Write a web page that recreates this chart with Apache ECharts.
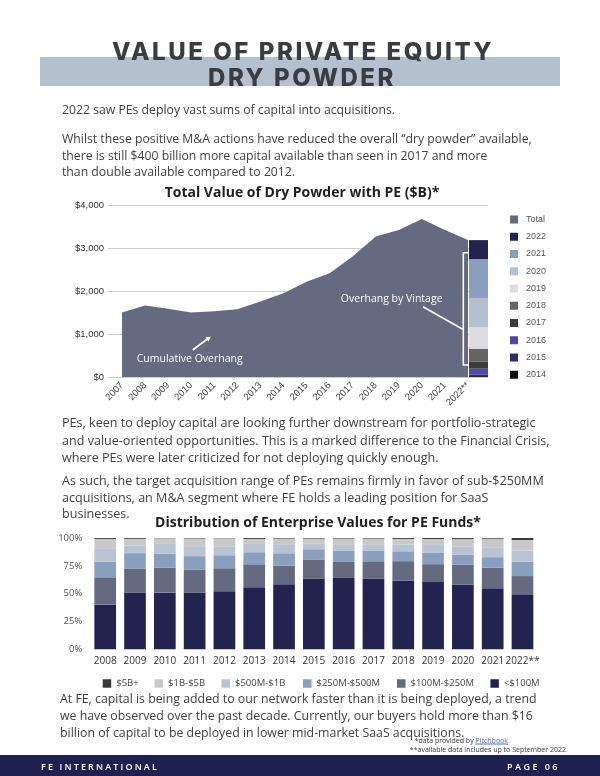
<!DOCTYPE html>
<html><head><meta charset="utf-8">
<script src="https://cdn.jsdelivr.net/npm/echarts/dist/echarts.min.js"></script>
<style>
html,body{margin:0;padding:0;width:600px;height:776px;overflow:hidden;background:#fff;}
#chart{position:absolute;left:0;top:0;width:600px;height:776px;}
.t{position:absolute;white-space:nowrap;line-height:1;transform:translateY(-50%);font-family:'Open Sans',sans-serif;color:#404040;z-index:5;}
.ttl{font-family:Inter,'Open Sans',sans-serif;font-weight:800;font-size:24px;color:#3a3c44;}
#band{position:absolute;left:40px;top:57px;width:520px;height:29px;background:#b5c0cf;z-index:1;}
#footer{position:absolute;left:0;top:755px;width:600px;height:21px;background:#1d2150;z-index:1;}
.ft{color:#fff;font-family:'Open Sans',sans-serif;font-size:9px;font-weight:600;}
.note{font-size:7px;color:#333;transform:translateY(-50%);}
.note a{color:#4a6cc7;text-decoration:underline;}
</style></head>
<body>
<div id="chart"></div>
<div id="band"></div>
<div class="t ttl" id="ttl1" style="top:52px;">VALUE OF PRIVATE EQUITY</div>
<div class="t ttl" id="ttl2" style="top:78px;">DRY POWDER</div>

<div class="t b1" style="left:62px;top:110px;">2022 saw PEs deploy vast sums of capital into acquisitions.</div>
<div class="t b1" id="b1ref" style="left:62px;top:139px;">Whilst these positive M&amp;A actions have reduced the overall “dry powder” available,</div>
<div class="t b1" style="left:62px;top:156px;">there is still $400 billion more capital available than seen in 2017 and more</div>
<div class="t b1" style="left:62px;top:172px;">than double available compared to 2012.</div>

<div class="t b2" id="b2ref" style="left:62px;top:423px;">PEs, keen to deploy capital are looking further downstream for portfolio-strategic</div>
<div class="t b2" style="left:62px;top:441px;">and value-oriented opportunities. This is a marked difference to the Financial Crisis,</div>
<div class="t b2" style="left:62px;top:458px;">where PEs were later criticized for not deploying quickly enough.</div>
<div class="t b2" style="left:62px;top:481px;">As such, the target acquisition range of PEs remains firmly in favor of sub-$250MM</div>
<div class="t b2" style="left:62px;top:498px;">acquisitions, an M&amp;A segment where FE holds a leading position for SaaS</div>
<div class="t b2" style="left:62px;top:514px;">businesses.</div>

<div class="t b3" id="b3ref" style="left:60px;top:699px;">At FE, capital is being added to our network faster than it is being deployed, a trend</div>
<div class="t b3" style="left:60px;top:716px;">we have observed over the past decade. Currently, our buyers hold more than $16</div>
<div class="t b3" style="left:60px;top:733px;">billion of capital to be deployed in lower mid-market SaaS acquisitions.</div>

<div class="t note" style="right:92px;top:740px;">*data provided by <a>Pitchbook</a></div>
<div class="t note" style="right:34px;top:748.5px;">**available data includes up to September 2022</div>

<div id="footer"></div>
<div class="t ft" id="ftl" style="left:41px;top:766px;">FE INTERNATIONAL</div>
<div class="t ft" id="ftr" style="left:507px;top:766px;">PAGE 06</div>

<script>
// ---------- data ----------
const dryYears = ['2007','2008','2009','2010','2011','2012','2013','2014','2015','2016','2017','2018','2019','2020','2021','2022**'];
const dryTotal = [1500,1660,1585,1500,1530,1575,1755,1945,2215,2410,2800,3265,3420,3675,3420,3185];
const vintageNames = ['2022','2021','2020','2019','2018','2017','2016','2015','2014'];
const vintageValues = [443,902,676,503,296,170,133,40,20];
const vintageColors = ['#22234e','#8a9fbd','#b4bfd0','#dcdde0','#656565','#3c3c3c','#4b4ba6','#2d2d6e','#0a0a0a'];
const yTickLabels = ['$0','$1,000','$2,000','$3,000','$4,000'];

const evYears = ['2008','2009','2010','2011','2012','2013','2014','2015','2016','2017','2018','2019','2020','2021','2022**'];
const evBands = ['$5B+','$1B-$5B','$500M-$1B','$250M-$500M','$100M-$250M','<$100M'];
const ev5Bplus     = [0.9,0.9,0.3,0.6,0.3,0.9,0.6,0.6,0.6,0.6,0.9,0.9,0.9,0.6,1.8];
const ev1Bto5B     = [9.0,6.0,5.1,6.9,7.2,4.5,5.1,4.2,5.7,5.7,5.1,5.4,6.5,7.7,9.5];
const ev500Mto1B   = [11.4,6.9,8.7,9.0,8.1,7.5,8.1,5.4,5.4,5.4,6.0,7.1,7.4,8.9,10.1];
const ev250Mto500M = [14.1,14.1,12.6,12.3,11.7,10.8,11.1,9.6,9.9,9.3,8.9,10.1,9.2,9.5,12.8];
const ev100Mto250M = [24.6,21.3,22.5,20.4,20.7,20.7,16.8,16.8,14.4,15.6,17.3,16.1,17.9,18.5,17.0];
const evUnder100M  = [40.1,51.0,50.9,51.0,52.1,55.7,58.4,63.5,64.1,63.5,61.9,60.4,58.0,54.8,48.8];
const evColors = ['#3a3a3a','#c8c8ca','#b8c3d3','#8a9fbd','#646b80','#22234e'];
const pctTickLabels = ['0%','25%','50%','75%','100%'];

// ---------- text fitting ----------
function fitFont(cls, refId, target){
  const ref = document.getElementById(refId);
  const w = ref.getBoundingClientRect().width;
  const fs = parseFloat(getComputedStyle(ref).fontSize);
  const nfs = fs*target/w;
  document.querySelectorAll('.'+cls).forEach(e=>e.style.fontSize=nfs+'px');
}
function fitSpacing(id, left, right){
  const e = document.getElementById(id);
  const n = e.textContent.length;
  const w = e.getBoundingClientRect().width;
  const ls = (right-left-w)/n;
  e.style.letterSpacing = ls+'px';
  e.style.left = left+'px';
}
document.querySelectorAll('.b1,.b2,.b3').forEach(e=>e.style.fontSize='12px');
fitFont('b1','b1ref',470);
fitFont('b2','b2ref',474);
fitFont('b3','b3ref',477);
fitSpacing('ttl1',112,490+4);
fitSpacing('ttl2',208,392+4);
fitSpacing('ftl',41,157+2);
fitSpacing('ftr',507,558+2);

// ---------- chart ----------
const chart = echarts.init(document.getElementById('chart'), null, {renderer:'canvas'});
const axFont = 'Liberation Sans';
const series = [];
series.push({
  name:'Total', type:'line', xAxisIndex:1, yAxisIndex:1, data:dryTotal,
  symbol:'none', lineStyle:{width:0}, itemStyle:{color:'#646b80'},
  areaStyle:{color:'#646b80', opacity:1}, z:1
});
for(let i=vintageNames.length-1;i>=0;i--){
  series.push({
    name:vintageNames[i], type:'bar', xAxisIndex:2, yAxisIndex:2, stack:'vintage',
    barWidth:19, data:[vintageValues[i]], itemStyle:{color:vintageColors[i]}
  });
}
const evData = [ev5Bplus, ev1Bto5B, ev500Mto1B, ev250Mto500M, ev100Mto250M, evUnder100M];
for(let i=evBands.length-1;i>=0;i--){
  series.push({
    name:evBands[i], type:'bar', xAxisIndex:3, yAxisIndex:3, stack:'ev',
    barWidth:21.7, data:evData[i], itemStyle:{color:evColors[i]}
  });
}
const evLegendLeft = [97.7,149.6,216.5,298,392,485.4];
const legends = [{
  orient:'vertical', left:505, top:210, itemWidth:8, itemHeight:8, itemGap:8.25, icon:'rect',
  data:['Total'].concat(vintageNames), selectedMode:false,
  textStyle:{fontSize:9, color:'#555', fontFamily:axFont, padding:[0,0,0,3]}
}];
evBands.forEach((b,i)=>legends.push({
  left:evLegendLeft[i], top:673.5, itemWidth:8.5, itemHeight:8.5, icon:'rect', data:[b], selectedMode:false,
  textStyle:{fontSize:9.5, color:'#444', fontFamily:'Open Sans'}
}));

const sw = '#ffffff';
const option = {
  animation:false,
  title:[
    {text:'Total Value of Dry Powder with PE ($B)*', left:297, top:181, textAlign:'center',
      textStyle:{fontFamily:'Open Sans', fontWeight:'bold', fontSize:14, color:'#1e1e1e'}},
    {text:'Distribution of Enterprise Values for PE Funds*', left:313, top:511, textAlign:'center',
      textStyle:{fontFamily:'Open Sans', fontWeight:'bold', fontSize:14, color:'#1e1e1e'}}
  ],
  legend:legends,
  grid:[
    {left:108, top:205, width:380, height:172},
    {left:122, top:205, width:346, height:172},
    {left:469, top:205, width:19, height:172},
    {left:90.3, top:538, width:447.1, height:111.3}
  ],
  xAxis:[
    {gridIndex:0, type:'category', data:['axis'], show:false},
    {gridIndex:1, type:'category', data:dryYears, boundaryGap:false, axisLine:{show:false}, axisTick:{show:false},
      axisLabel:{rotate:45, fontSize:9.5, color:'#444', margin:7, interval:0, fontFamily:axFont}},
    {gridIndex:2, type:'category', data:['2022**'], show:false},
    {gridIndex:3, type:'category', data:evYears, axisLine:{show:false}, axisTick:{show:false},
      axisLabel:{fontSize:10, color:'#333', margin:7, interval:0, fontFamily:'Open Sans'}}
  ],
  yAxis:[
    {gridIndex:0, type:'value', min:0, max:4000, interval:1000,
      axisLabel:{formatter:(v)=>yTickLabels[v/1000], fontSize:9.5, color:'#333', margin:4, fontFamily:axFont},
      splitLine:{lineStyle:{color:'#cccccc', width:1.2}}, axisLine:{show:false}, axisTick:{show:false}},
    {gridIndex:1, type:'value', min:0, max:4000, show:false},
    {gridIndex:2, type:'value', min:0, max:4000, show:false},
    {gridIndex:3, type:'value', min:0, max:100, interval:25,
      axisLabel:{formatter:(v)=>pctTickLabels[v/25], fontSize:9.5, color:'#555', margin:8, fontFamily:'Open Sans'},
      splitLine:{show:false}, axisLine:{show:false}, axisTick:{show:false}}
  ],
  graphic:[
    {type:'polyline', z:100, shape:{points:[[469,252.7],[463.3,252.7],[463.3,365],[469,365]]}, style:{stroke:sw, lineWidth:1.6, fill:null}},
    {type:'line', z:100, shape:{x1:423, y1:306.7, x2:462.7, y2:329.3}, style:{stroke:sw, lineWidth:1.6}},
    {type:'text', z:100, x:391.7, y:299.3, style:{text:'Overhang by Vintage', fill:sw, fontSize:10.5, fontFamily:'Open Sans', align:'center', verticalAlign:'middle'}},
    {type:'text', z:100, x:136.7, y:359, style:{text:'Cumulative Overhang', fill:sw, fontSize:10.5, fontFamily:'Open Sans', align:'left', verticalAlign:'middle'}},
    {type:'line', z:100, shape:{x1:192.7, y1:350, x2:208, y2:338.5}, style:{stroke:sw, lineWidth:1.6}},
    {type:'polygon', z:100, shape:{points:[[211,336.5],[208.5,341.5],[205.5,337.6]]}, style:{fill:sw}}
  ],
  series:series
};
chart.setOption(option);
</script>
</body></html>
